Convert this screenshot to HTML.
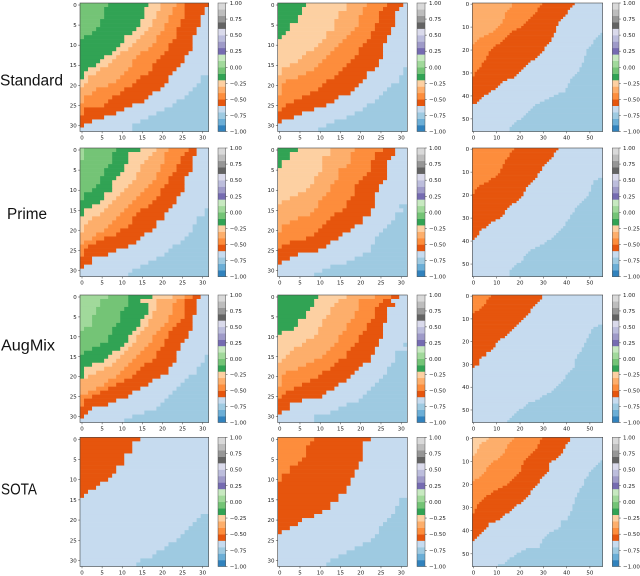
<!DOCTYPE html>
<html lang="en">
<head>
<meta charset="utf-8">
<title>Heatmap grid</title>
<style>
html,body{margin:0;padding:0;background:#fff;width:640px;height:576px;overflow:hidden}
svg{display:block;filter:blur(0.3px)}
.t{font-family:"DejaVu Sans","Liberation Sans",sans-serif;font-size:5.5px;fill:#222}
.r{font-family:"Liberation Sans",sans-serif;font-size:15.5px;fill:#111}
</style>
</head>
<body>
<svg id="fig" xmlns="http://www.w3.org/2000/svg" width="640" height="576" viewBox="0 0 640 576">
<text class="r" x="0" y="85.5" textLength="63" lengthAdjust="spacingAndGlyphs">Standard</text>
<text class="r" x="7" y="219" textLength="40" lengthAdjust="spacingAndGlyphs">Prime</text>
<text class="r" x="1" y="350.5" textLength="54" lengthAdjust="spacingAndGlyphs">AugMix</text>
<text class="r" x="1" y="494.5" textLength="36" lengthAdjust="spacingAndGlyphs">SOTA</text>
</svg>
<script>
// Colormap (tab20c, bottom to top of the colourbar)
const cmapColors=["#3182bd","#6baed6","#9ecae1","#c6dbef","#e6550d","#fd8d3c","#fdae6b","#fdd0a2","#31a354","#74c476","#a1d99b","#c7e9c0","#756bb1","#9e9ac8","#bcbddc","#dadaeb","#636363","#969696","#bdbdbd","#d9d9d9"];
const colorbarTicks=[1,0.75,0.5,0.25,0,-0.25,-0.5,-0.75,-1];
const ticks32=[0,5,10,15,20,25,30];
const ticks56=[0,10,20,30,40,50];

// Cell values of the bands
const V_A=0.05,V_B=-0.05,V_C=-0.15,V_D=-0.25,V_E=-0.35,V_F=-0.45,V_G=-0.55,V_H=-0.65,V_I=-0.75;

// Per-row band ends (column counts); missing rows are 0
const std1B=[7,6,6,6,5,5,4,3,1];
const std1C=[17,16,16,16,15,15,14,13,11,11,10,9,8,6,5,4,2,1,1];
const std1D=[20,20,19,19,18,18,17,16,15,14,13,12,10,9,8,7,5,4,2,2,1];
const std1E=[24,23,23,22,22,21,21,20,19,19,18,17,15,14,13,13,12,11,10,9,7,4,3,1,1];
const std1F=[26,26,26,26,25,25,24,24,24,23,22,22,21,20,19,18,18,17,15,14,13,11,10,8,7,6,1,1];
const std1G=[32,31,31,30,30,30,29,29,28,28,28,28,27,26,26,25,24,23,22,22,21,20,18,17,16,13,11,9,6,3,1,0];
const std1H=[32,32,32,32,32,32,32,32,32,32,32,32,32,32,32,32,32,32,30,30,29,28,27,26,24,23,21,19,17,15,13,13];

const std2C=[7,6,6,5,5,3,3,2,1];
const std2D=[17,17,15,15,14,14,14,12,12,11,10,9,7,6,5,3,1,1];
const std2E=[22,21,21,20,20,20,19,18,17,16,15,14,13,12,11,10,9,7,5,2,1,1,1];
const std2F=[27,26,25,25,25,24,24,23,23,22,21,20,20,19,18,17,16,15,14,12,11,10,8,6,4,2,1];
const std2G=[31,30,29,29,29,29,28,28,27,27,26,26,26,26,25,25,24,22,22,21,20,19,18,15,14,12,9,6,4,1];
const std2H=[32,32,32,32,32,32,32,32,32,32,32,32,32,32,32,32,31,31,30,30,28,27,26,25,24,22,21,19,17,14,12,10];

const std3E=[17,17,16,15,14,14,14,13,13,12,11,10,9,7,5,3,2,1];
const std3F=[30,29,28,28,27,26,25,24,23,22,21,19,17,16,15,14,13,12,10,9,8,7,7,6,6,5,4,4,3,2,1,1];
const std3G=[44,43,42,41,41,40,39,38,37,37,36,36,36,35,35,34,34,33,32,31,31,30,29,28,27,25,24,23,22,21,20,19,18,15,13,12,11,10,8,7,5,4,3,2];
const std3H=[56,56,56,56,56,56,56,56,56,56,56,56,56,55,54,53,52,52,51,50,49,49,49,48,48,48,47,47,46,46,45,44,43,42,42,41,41,40,40,37,35,33,31,29,27,26,25,24,23,22,21,19,18,17,16,16];

const pri1A=[1,1,1];
const pri1B=[9,8,8,8,7,6,6,5,5,4,3,1,1];
const pri1C=[15,12,12,12,11,11,10,9,8,8,8,6,6,5,3,1,1];
const pri1D=[19,18,17,16,15,15,14,14,13,12,11,10,9,8,7,6,5,3,2,1,1];
const pri1E=[22,21,21,21,20,20,19,19,18,17,16,15,14,13,12,11,10,9,8,7,6,4,3,1];
const pri1F=[27,26,25,25,24,24,23,22,22,21,20,20,19,18,17,15,14,13,13,12,10,9,6,4,2,1,1];
const pri1G=[29,29,28,28,28,28,27,26,26,26,26,25,24,24,23,22,21,21,19,19,18,16,15,14,12,9,7,3,3,1];
const pri1H=[32,32,32,32,32,32,32,32,32,32,32,32,32,32,32,31,31,29,29,28,28,27,26,25,23,22,21,19,17,15,13,12];

const pri2C=[5,3,3,1,1];
const pri2D=[13,13,11,11,11,11,10,9,9,8,7,5,3,1];
const pri2E=[19,18,18,18,17,15,15,15,14,13,13,12,11,10,10,9,8,5,3,1,1];
const pri2F=[26,24,24,23,23,23,22,21,20,19,19,19,18,17,17,16,14,13,12,11,10,9,7,3,1];
const pri2G=[29,29,28,27,27,27,27,27,26,25,25,24,24,24,24,23,23,21,21,19,18,16,15,13,12,10,5,3,1];
const pri2H=[32,32,32,32,32,32,32,32,32,32,32,32,32,32,30,31,29,29,28,27,26,25,24,24,23,23,21,19,17,13,11,9];

const pri3F=[18,17,16,16,15,14,14,13,13,12,12,11,10,8,7,5,3,2,1,1];
const pri3G=[37,36,35,35,34,33,32,31,30,30,29,28,28,27,26,25,24,23,23,22,22,21,20,19,17,16,15,14,14,13,12,10,8,7,6,4,3,3,2,1];
const pri3H=[56,56,56,56,56,56,56,56,56,56,56,56,56,54,52,52,51,51,51,50,50,49,48,47,46,45,44,44,43,42,42,41,40,40,39,38,37,36,35,34,32,31,29,27,25,24,23,22,22,21,19,18,17,16,16,16];

const aug1A=[7,5,5,4,4,3,3,3,1];
const aug1B=[12,12,12,11,10,10,10,9,8,8,7,7,5,3,1];
const aug1C=[18,15,17,17,17,16,15,15,14,13,12,12,11,10,8,7,6,3,1,1,1];
const aug1D=[23,19,19,19,18,18,17,17,16,15,14,14,13,12,11,10,9,8,6,4,2];
const aug1E=[26,24,23,23,23,22,22,21,20,19,18,18,17,16,15,14,13,12,11,10,9,7,6,4,2];
const aug1F=[28,26,26,26,26,26,25,24,23,22,22,21,21,20,19,19,18,16,15,14,13,11,9,7,5,3,1,1];
const aug1G=[30,29,29,29,29,28,28,28,28,27,27,26,25,25,24,24,24,23,22,22,20,18,17,15,13,12,9,7,3,2,1,0];
const aug1H=[32,32,32,32,32,32,32,32,32,32,32,32,32,32,32,31,31,30,29,29,27,26,25,24,23,22,21,20,19,16,13,11];

const aug2C=[10,9,9,8,7,7,5,5,4,1];
const aug2D=[17,15,14,13,13,12,11,11,10,10,9,7,6,4,3,2,1];
const aug2E=[24,20,20,20,19,19,18,17,17,16,15,15,14,13,12,11,9,7,5,2,1,1,1];
const aug2F=[28,26,25,24,24,24,23,22,22,21,20,20,19,18,17,17,15,14,13,11,10,8,6,4,2,1];
const aug2G=[30,28,29,27,27,27,27,26,26,26,26,25,25,24,24,23,23,21,20,19,18,17,15,14,12,11,6,3,3,1];
const aug2H=[32,32,32,32,32,32,32,32,32,32,32,32,31,32,29,29,29,28,27,27,26,25,24,23,22,21,20,17,15,13,9,9];

const aug3F=[8,7,6,6,5,4,3,1];
const aug3G=[30,30,29,28,27,26,25,25,24,23,22,21,20,19,18,17,16,15,14,12,11,10,10,9,8,6,6,4,3,3,3,1];
const aug3H=[56,56,56,56,56,56,56,56,56,56,56,56,56,54,52,51,51,50,50,49,49,48,48,47,47,46,45,45,44,44,44,44,43,42,41,40,40,39,38,37,36,35,34,32,30,29,27,24,23,22,20,19,18,17,16,15];

const sota1G=[15,13,13,13,11,11,11,9,9,8,7,5,4,2,1];
const sota1H=[32,32,32,32,32,32,32,32,32,32,32,32,32,32,32,32,32,32,32,30,29,28,27,26,25,24,22,21,19,18,15,14];

const sota2F=[9,8,7,7,7,6,5,3,3,1,1];
const sota2G=[23,21,21,21,21,21,20,20,19,19,18,18,17,17,15,15,13,13,11,9,6,5,3,1];
const sota2H=[32,32,32,32,32,32,32,32,32,32,32,32,32,32,32,30,30,29,29,28,27,26,25,25,24,23,21,19,17,15,13,12];

const sota3D=[7,6,4,3,3,2,2,1];
const sota3E=[18,17,16,15,15,14,14,13,12,11,9,8,7,6,6,5,4,3,1];
const sota3F=[30,29,29,28,28,27,26,25,24,23,22,22,21,21,21,20,19,18,17,16,15,13,11,9,8,6,5,4,3,2,2,1,1];
const sota3G=[42,42,41,40,40,39,39,38,37,36,34,33,33,33,33,32,31,30,29,29,28,27,26,25,25,24,23,22,21,19,18,17,16,14,13,12,10,7,7,6,5,4,3,2,1];
const sota3H=[56,56,56,56,56,56,56,56,56,56,55,54,53,52,51,50,50,49,48,48,48,47,46,46,45,45,44,44,44,43,43,43,42,42,41,41,38,38,38,37,35,33,32,31,30,30,29,29,23,21,19,18,16,15,14,11];

const panels=[
 {name:"standard-1",row:0,col:0,n:32,values:[V_B,V_C,V_D,V_E,V_F,V_G,V_H],ends:[std1B,std1C,std1D,std1E,std1F,std1G,std1H]},
 {name:"standard-2",row:0,col:1,n:32,values:[V_C,V_D,V_E,V_F,V_G,V_H],ends:[std2C,std2D,std2E,std2F,std2G,std2H]},
 {name:"standard-3",row:0,col:2,n:56,values:[V_E,V_F,V_G,V_H],ends:[std3E,std3F,std3G,std3H]},
 {name:"prime-1",row:1,col:0,n:32,values:[V_A,V_B,V_C,V_D,V_E,V_F,V_G,V_H],ends:[pri1A,pri1B,pri1C,pri1D,pri1E,pri1F,pri1G,pri1H]},
 {name:"prime-2",row:1,col:1,n:32,values:[V_C,V_D,V_E,V_F,V_G,V_H],ends:[pri2C,pri2D,pri2E,pri2F,pri2G,pri2H]},
 {name:"prime-3",row:1,col:2,n:56,values:[V_F,V_G,V_H],ends:[pri3F,pri3G,pri3H]},
 {name:"augmix-1",row:2,col:0,n:32,values:[V_A,V_B,V_C,V_D,V_E,V_F,V_G,V_H],ends:[aug1A,aug1B,aug1C,aug1D,aug1E,aug1F,aug1G,aug1H]},
 {name:"augmix-2",row:2,col:1,n:32,values:[V_C,V_D,V_E,V_F,V_G,V_H],ends:[aug2C,aug2D,aug2E,aug2F,aug2G,aug2H]},
 {name:"augmix-3",row:2,col:2,n:56,values:[V_F,V_G,V_H],ends:[aug3F,aug3G,aug3H]},
 {name:"sota-1",row:3,col:0,n:32,values:[V_G,V_H],ends:[sota1G,sota1H]},
 {name:"sota-2",row:3,col:1,n:32,values:[V_F,V_G,V_H],ends:[sota2F,sota2G,sota2H]},
 {name:"sota-3",row:3,col:2,n:56,values:[V_D,V_E,V_F,V_G,V_H],ends:[sota3D,sota3E,sota3F,sota3G,sota3H]}
];
const tailValue=V_I;

// Layout
const rowBox=[{t:3,b:131.5},{t:148,b:276.7},{t:295,b:422.5},{t:437.3,b:566.5}];
const colBox=[{l:80,r:208.7,cl:218,cr:225.7},{l:277.7,r:407.3,cl:417,cr:425},{l:472.3,r:602.7,cl:612.3,cr:619}];

const NS="http://www.w3.org/2000/svg";
const fig=document.getElementById("fig");
function mk(parent,tag,geom){
  const el=document.createElementNS(NS,tag);
  for(const k in geom) el.setAttribute(k,geom[k]);
  parent.appendChild(el);
  return el;
}
function colorOf(v){
  const i=Math.max(0,Math.min(19,Math.floor((v+1)*10)));
  return cmapColors[i];
}
function fmt(v){
  const s=Math.abs(v).toFixed(2);
  return v<0?"\u2212"+s:s;
}

panels.forEach(function(p){
  const R=rowBox[p.row],C=colBox[p.col];
  const g=mk(fig,"g",{});
  
  
  const cw=(C.r-C.l)/p.n,ch=(R.b-R.t)/p.n;
  const sx=function(c){return C.l+c*cw;};
  const sy=function(r){return R.t+r*ch;};
  for(let r=0;r<p.n;r++){
    let start=0;
    for(let i=0;i<=p.values.length;i++){
      const isTail=i===p.values.length;
      const end=isTail?p.n:Math.max(start,Math.min(p.n,p.ends[i][r]||0));
      if(end>start){
        const cell=mk(g,"rect",{x:sx(start).toFixed(2),y:sy(r).toFixed(2),width:((end-start)*cw+0.3).toFixed(2),height:(ch+0.3).toFixed(2),fill:colorOf(isTail?tailValue:p.values[i])});
        
        
      }
      start=end;
    }
  }
  const frame=mk(g,"rect",{x:C.l,y:R.t,width:C.r-C.l,height:R.b-R.t,fill:"none",stroke:"#444",'stroke-width':0.6});
  
  
  const ticks=p.n===32?ticks32:ticks56;
  ticks.forEach(function(t){
    const px=sx(t+0.5),py=sy(t+0.5);
    const xt=mk(g,"line",{x1:px,x2:px,y1:R.b,y2:R.b+1.8,stroke:"#333",'stroke-width':0.5});
    
    
    const yt=mk(g,"line",{x1:C.l-1.8,x2:C.l,y1:py,y2:py,stroke:"#333",'stroke-width':0.5});
    
    
    const xl=mk(g,"text",{x:px,y:R.b+8,'text-anchor':"middle",class:"t"});
    xl.textContent=String(t);
    
    
    const yl=mk(g,"text",{x:C.l-3.2,y:py+2,'text-anchor':"end",class:"t"});
    yl.textContent=String(t);
    
    
  });
  // colourbar
  const cb=mk(g,"g",{});
  
  
  const cbY=function(v){return R.b-(v+1)/2*(R.b-R.t);};
  cmapColors.forEach(function(c,i){
    const v0=-1+i*0.1,v1=v0+0.1;
    const s=mk(cb,"rect",{x:C.cl,y:cbY(v1).toFixed(2),width:C.cr-C.cl,height:(cbY(v0)-cbY(v1)+0.2).toFixed(2),fill:c});
    
    
  });
  const cf=mk(cb,"rect",{x:C.cl,y:R.t,width:C.cr-C.cl,height:R.b-R.t,fill:"none",stroke:"#555",'stroke-width':0.5});
  
  
  colorbarTicks.forEach(function(v){
    const y=cbY(v);
    const tk=mk(cb,"line",{x1:C.cr,x2:C.cr+1.8,y1:y,y2:y,stroke:"#333",'stroke-width':0.5});
    
    
    const tl=mk(cb,"text",{x:C.cr+4,y:y+2,class:"t"});
    tl.textContent=fmt(v);
    
    
  });
});
</script>
</body>
</html>
